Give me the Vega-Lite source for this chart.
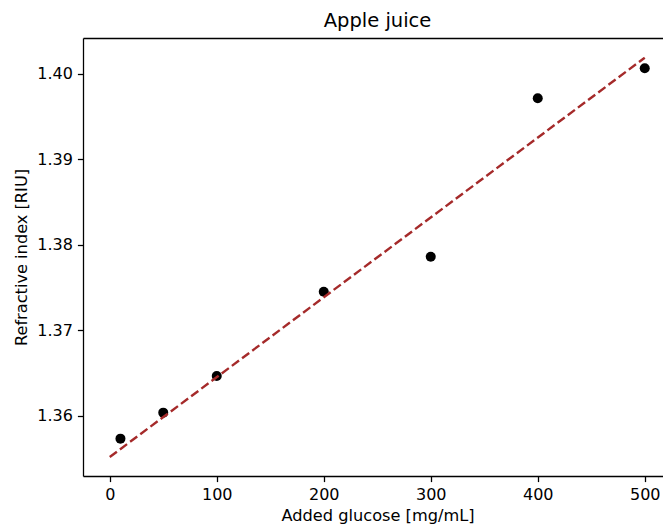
{
  "$schema": "https://vega.github.io/schema/vega-lite/v6.json",
  "width": 580,
  "height": 438,
  "autosize": "none",
  "padding": {"left": 83, "top": 38, "right": 0, "bottom": 50},
  "background": "white",
  "config": {
    "view": {"stroke": null},
    "font": "DejaVu Sans",
    "axis": {
      "grid": false,
      "domainColor": "black",
      "domainWidth": 1.28,
      "tickColor": "black",
      "tickWidth": 1.28,
      "tickSize": 5.6,
      "labelFont": "DejaVu Sans",
      "labelFontSize": 16,
      "labelColor": "black",
      "labelPadding": 5,
      "titleFont": "DejaVu Sans",
      "titleFontSize": 16.2,
      "titleFontWeight": "normal",
      "titleColor": "black"
    }
  },
  "title": {
    "text": "Apple juice",
    "font": "DejaVu Sans",
    "fontSize": 19.5,
    "fontWeight": "normal",
    "color": "black",
    "anchor": "middle",
    "frame": "group",
    "dx": 4.5,
    "dy": 18,
    "offset": 9.6,
    "baseline": "alphabetic"
  },
  "datasets": {
    "measured": [
      {"glucose": 10, "ri": 1.35735},
      {"glucose": 50, "ri": 1.36039},
      {"glucose": 100, "ri": 1.36468},
      {"glucose": 200, "ri": 1.37453},
      {"glucose": 300, "ri": 1.37863},
      {"glucose": 400, "ri": 1.39716},
      {"glucose": 500, "ri": 1.40067}
    ],
    "fit": [
      {"glucose": 0, "ri": 1.3552},
      {"glucose": 500, "ri": 1.4019}
    ]
  },
  "layer": [
    {
      "data": {"name": "measured"},
      "mark": {"type": "point", "filled": true, "color": "black", "opacity": 1, "size": 100},
      "encoding": {
        "x": {
          "field": "glucose",
          "type": "quantitative",
          "scale": {"domain": [-25, 517.06], "nice": false, "zero": false},
          "axis": {
            "orient": "bottom",
            "values": [0, 100, 200, 300, 400, 500],
            "title": "Added glucose [mg/mL]",
            "titleX": 294.5,
            "titleY": 44,
            "titleBaseline": "alphabetic",
            "titleAnchor": "middle"
          }
        },
        "y": {
          "field": "ri",
          "type": "quantitative",
          "scale": {"domain": [1.35298, 1.40421], "nice": false, "zero": false},
          "axis": {
            "values": [1.36, 1.37, 1.38, 1.39, 1.40],
            "format": ".2f",
            "title": "Refractive index [RIU]",
            "titleX": -62,
            "titleBaseline": "middle"
          }
        }
      }
    },
    {
      "data": {"name": "fit"},
      "mark": {"type": "line", "color": "#a52a2a", "strokeWidth": 2.4, "strokeDash": [8.9, 3.8]},
      "encoding": {
        "x": {
          "field": "glucose",
          "type": "quantitative",
          "axis": {"orient": "top", "labels": false, "ticks": false, "title": null, "domain": true, "labelPadding": 0, "minExtent": 0, "maxExtent": 0}
        },
        "y": {
          "field": "ri",
          "type": "quantitative",
          "axis": {
            "values": [1.36, 1.37, 1.38, 1.39, 1.40],
            "format": ".2f",
            "title": "Refractive index [RIU]",
            "titleX": -62,
            "titleBaseline": "middle"
          }
        }
      }
    }
  ],
  "resolve": {"axis": {"x": "independent"}}
}
